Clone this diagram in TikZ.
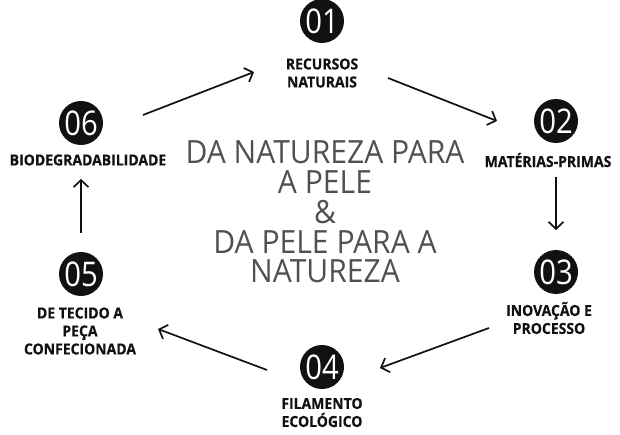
\documentclass[tikz,border=0pt]{standalone}
\usepackage{fontspec}
\setmainfont{Open Sans}
\newfontfamily\labfont[FakeStretch=0.92,FakeBold=0.4]{Open Sans Bold}
\newfontfamily\numfont[FakeStretch=0.86]{Open Sans}
\newfontfamily\midfont[FakeStretch=0.94]{Open Sans}
\usetikzlibrary{arrows.meta}
\definecolor{ink}{HTML}{111111}
\definecolor{midgray}{HTML}{505050}
\tikzset{
  numcirc/.style={circle,fill=ink,minimum size=44pt,inner sep=0pt,text=white,
    font=\numfont\fontsize{34}{34}\selectfont},
  lab/.style={align=center,text=ink,inner sep=0pt,
    font=\labfont\fontsize{15.2}{18}\selectfont},
  arr/.style={draw=ink,line width=1.7pt,-{Straight Barb[length=7pt,width=15pt,line width=1.7pt]}},
  centertext/.style={align=center,text=midgray,inner sep=0pt,
    font=\midfont\fontsize{32}{29.7}\selectfont}
}
\begin{document}
\begin{tikzpicture}[x=1pt,y=-1pt]
\useasboundingbox (0,0) rectangle (620,435);
% circles
\node[numcirc] (c1) at (322,21) {01};
\node[numcirc] (c2) at (556,121) {02};
\node[numcirc] (c3) at (556,272) {03};
\node[numcirc] (c4) at (322,367) {04};
\node[numcirc] (c5) at (81,274) {05};
\node[numcirc] (c6) at (81,123) {06};
% labels
\node[lab] (l1) at (322,73) {RECURSOS\\NATURAIS};
\node[lab] (l2) at (548,160) {MATÉRIAS-PRIMAS};
\node[lab] (l3) at (549,318) {INOVAÇÃO E\\PROCESSO};
\node[lab] (l4) at (322,412.5) {FILAMENTO\\ECOLÓGICO};
\node[lab] (l5) at (80,331) {DE TECIDO A\\PEÇA\\CONFECIONADA};
\node[lab] (l6) at (88,160) {BIODEGRADABILIDADE};
% center text
\node[centertext] (ct) at (325,212) {DA NATUREZA PARA\\A PELE\\\&\\DA PELE PARA A\\NATUREZA};
% arrow end points
\coordinate (a61) at (143,115); \coordinate (a62) at (254,72);
\coordinate (a11) at (388,78);  \coordinate (a12) at (497,121);
\coordinate (a21) at (556,177); \coordinate (a22) at (556,230);
\coordinate (a31) at (489,328); \coordinate (a32) at (380,368);
\coordinate (a41) at (267,370); \coordinate (a42) at (158,329);
\coordinate (a51) at (81,233);  \coordinate (a52) at (81,179);
\draw[arr] (a61) -- (a62);
\draw[arr] (a11) -- (a12);
\draw[arr] (a21) -- (a22);
\draw[arr] (a31) -- (a32);
\draw[arr] (a41) -- (a42);
\draw[arr] (a51) -- (a52);
\end{tikzpicture}
\end{document}
